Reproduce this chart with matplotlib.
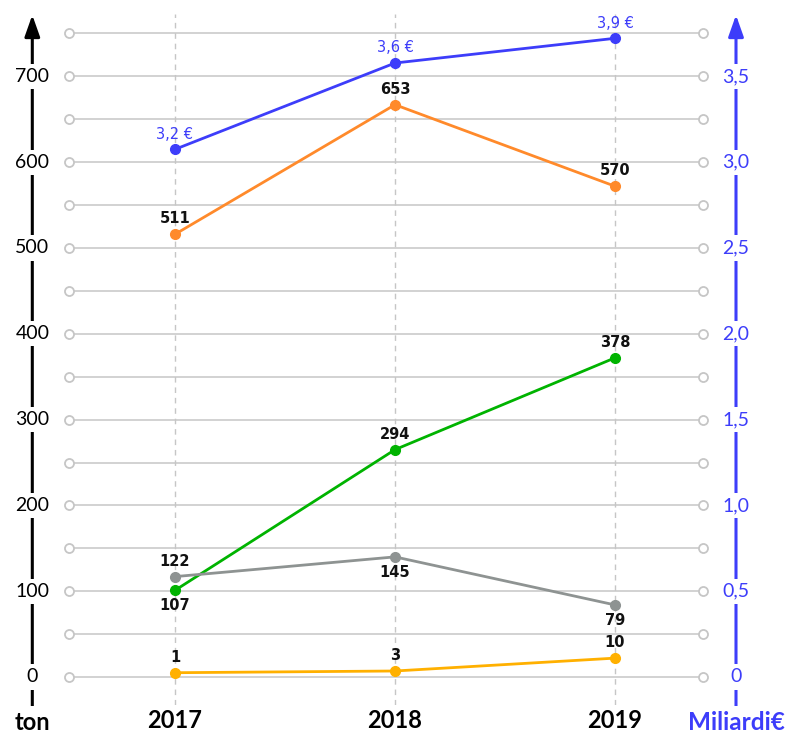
import matplotlib
matplotlib.use("Agg")
from matplotlib import pyplot as plt

# dati
anni = [2017, 2018, 2019]

# serie in tonnellate (posizione) e etichette mostrate
arancio = [516, 667, 572]
arancio_lab = ['511', '653', '570']
verde = [101, 265, 372]
verde_lab = ['107', '294', '378']
grigio = [117, 140, 84]
grigio_lab = ['122', '145', '79']
giallo = [5, 7, 22]
giallo_lab = ['1', '3', '10']

# miliardi di euro (asse destro)
euro = [3.075, 3.578, 3.722]
euro_lab = ['3,2 €', '3,6 €', '3,9 €']

ton_ticks = [0, 100, 200, 300, 400, 500, 600, 700]
eur_ticks = [0, 0.5, 1.0, 1.5, 2.0, 2.5, 3.0, 3.5]
eur_tick_lab = ['0', '0,5', '1,0', '1,5', '2,0', '2,5', '3,0', '3,5']
griglia = list(range(0, 751, 50))

BLU = '#3d3dfa'
ARANCIO = '#ff8a2b'
VERDE = '#00b300'
GRIGIO = '#8e9392'
GIALLO = '#ffb000'
GRID = '#c6c6c6'

fig = plt.figure(figsize=(7.91, 7.34), dpi=100)
ax = fig.add_axes([0, 0, 1, 1])
ax.set_axis_off()

# scala in pixel: 220 px per anno, 0.858 px per tonnellata
px_anno = 220.0
px_ton = 0.858
ax.set_xlim(2017 - 175 / px_anno, 2017 + 616 / px_anno)
ax.set_ylim((677 - 734) / px_ton, 677 / px_ton)

def xp(p):
    return 2017 + (p - 175) / px_anno

def yp(p):
    return (677 - p) / px_ton

x_sx, x_dx = xp(32.3), xp(736)
g_sx, g_dx = xp(69), xp(703.3)

# griglia orizzontale con cerchietti
for g in griglia:
    ax.plot([g_sx, g_dx], [g, g], color=GRID, lw=1.1, zorder=1,
            marker='o', markersize=6.5, markerfacecolor='white',
            markeredgecolor=GRID, markeredgewidth=1.3)

# linee verticali tratteggiate
for a in anni:
    ax.plot([a, a], [yp(705), yp(14)], color=GRID, lw=1, ls=(0, (4, 3.5)), zorder=1)

# assi con freccia
for xa, col in [(x_sx, 'black'), (x_dx, BLU)]:
    ax.annotate('', xy=(xa, yp(15)), xytext=(xa, yp(708)),
                arrowprops=dict(arrowstyle='-|>,head_length=0.65,head_width=0.23',
                                lw=2.2, color=col, mutation_scale=20,
                                shrinkA=0, shrinkB=0), zorder=2)

bb = dict(facecolor='white', edgecolor='none', pad=3)
for t in ton_ticks:
    ax.text(x_sx, t, str(t), ha='center', va='center', fontsize=14,
            family='Lato', color='black', bbox=bb, zorder=3)
for t, lab in zip(eur_ticks, eur_tick_lab):
    ax.text(x_dx, t * 200, lab, ha='center', va='center', fontsize=14,
            family='Lato', color=BLU, bbox=bb, zorder=3)

ax.text(x_sx, yp(722), 'ton', ha='center', va='center', fontsize=17,
        family='Lato', weight='bold', color='black', bbox=bb, zorder=3)
ax.text(x_dx, yp(722), 'Miliardi€', ha='center', va='center', fontsize=17.5,
        family='Lato', weight='bold', color=BLU, bbox=bb, zorder=3)
for a in anni:
    ax.text(a, yp(721), str(a), ha='center', va='center', fontsize=17,
            family='Lato', weight='bold', color='black', bbox=bb, zorder=3)

# serie
serie = [
    (arancio, arancio_lab, ARANCIO, [1, 1, 1]),
    (verde, verde_lab, VERDE, [-1, 1, 1]),
    (grigio, grigio_lab, GRIGIO, [1, -1, -1]),
    (giallo, giallo_lab, GIALLO, [1, 1, 1]),
]
for vals, labs, col, pos in serie:
    ax.plot(anni, vals, color=col, lw=2, marker='o', markersize=7, zorder=4)
    for a, v, l, p in zip(anni, vals, labs, pos):
        ax.annotate(l, (a, v), xytext=(0, 11 * p), textcoords='offset points',
                    ha='center', va='center', fontsize=10.5, family='DejaVu Sans',
                    weight='bold', color='#111111', zorder=5)

euro_ton = [e * 200 for e in euro]
ax.plot(anni, euro_ton, color=BLU, lw=2, marker='o', markersize=7, zorder=4)
for a, v, l in zip(anni, euro_ton, euro_lab):
    ax.annotate(l, (a, v), xytext=(0, 11), textcoords='offset points',
                ha='center', va='center', fontsize=10.5, family='DejaVu Sans',
                color=BLU, zorder=5)

fig.savefig('out.png', dpi=100)
